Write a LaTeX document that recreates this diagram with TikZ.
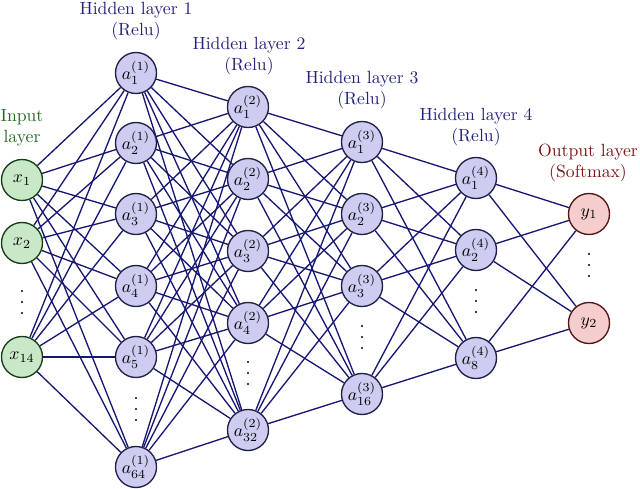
\documentclass[tikz,border=0pt]{standalone}
\usetikzlibrary{backgrounds}
\definecolor{edgec}{RGB}{22,22,115}
\definecolor{hidfill}{RGB}{205,205,242}
\definecolor{hiddraw}{RGB}{30,30,70}
\definecolor{inpfill}{RGB}{200,232,200}
\definecolor{inpdraw}{RGB}{20,60,20}
\definecolor{outfill}{RGB}{245,205,205}
\definecolor{outdraw}{RGB}{80,20,20}
\definecolor{inlab}{RGB}{35,105,35}
\definecolor{hidlab}{RGB}{35,35,125}
\definecolor{outlab}{RGB}{125,20,20}
\tikzset{
  neuron/.style={circle, minimum size=0.816cm, inner sep=0pt, line width=0.75pt},
  inp/.style={neuron, fill=inpfill, draw=inpdraw},
  hid/.style={neuron, fill=hidfill, draw=hiddraw},
  outn/.style={neuron, fill=outfill, draw=outdraw},
  edge/.style={draw=edgec, line width=0.75pt},
  lab/.style={align=center, inner sep=0pt}
}
\newcommand{\vdotsat}[1]{%
  \fill[black] ([yshift=0.0199cm*11]#1) circle (1.2*0.0199cm);
  \fill[black] (#1) circle (1.2*0.0199cm);
  \fill[black] ([yshift=-0.0199cm*11]#1) circle (1.2*0.0199cm);}
\begin{document}
\begin{tikzpicture}[x=0.0199cm, y=-0.0199cm]
\useasboundingbox (0,0) rectangle (640,488);
% input layer
\node[inp] (x1) at (22,180) {$x_1$};
\node[inp] (x2) at (22,243) {$x_2$};
\coordinate (xd) at (22,302);
\node[inp] (x14) at (22,357) {$x_{14}$};
% hidden 1
\node[hid] (a11) at (136,73) {$a_1^{(1)}$};
\node[hid] (a12) at (136,143) {$a_2^{(1)}$};
\node[hid] (a13) at (136,214) {$a_3^{(1)}$};
\node[hid] (a14) at (136,286) {$a_4^{(1)}$};
\node[hid] (a15) at (136,357) {$a_5^{(1)}$};
\coordinate (a1d) at (136,409);
\node[hid] (a164) at (136,467) {$a_{64}^{(1)}$};
% hidden 2
\node[hid] (a21) at (248,107) {$a_1^{(2)}$};
\node[hid] (a22) at (248,179) {$a_2^{(2)}$};
\node[hid] (a23) at (248,251) {$a_3^{(2)}$};
\node[hid] (a24) at (248,323) {$a_4^{(2)}$};
\coordinate (a2d) at (248,373);
\node[hid] (a232) at (248,430) {$a_{32}^{(2)}$};
% hidden 3
\node[hid] (a31) at (362,142) {$a_1^{(3)}$};
\node[hid] (a32) at (362,214) {$a_2^{(3)}$};
\node[hid] (a33) at (362,286) {$a_3^{(3)}$};
\coordinate (a3d) at (362,337);
\node[hid] (a316) at (362,394) {$a_{16}^{(3)}$};
% hidden 4
\node[hid] (a41) at (476,178) {$a_1^{(4)}$};
\node[hid] (a42) at (476,250) {$a_2^{(4)}$};
\coordinate (a4d) at (476,301);
\node[hid] (a48) at (476,358) {$a_8^{(4)}$};
% output
\node[outn] (y1) at (589,214) {$y_1$};
\coordinate (yd) at (589,265);
\node[outn] (y2) at (589,323) {$y_2$};
% dots
\vdotsat{xd}
\vdotsat{a1d}
\vdotsat{a2d}
\vdotsat{a3d}
\vdotsat{a4d}
\vdotsat{yd}
% labels
\node[lab, text=inlab] (lin) at (22,128) {Input\\layer};
\node[lab, text=hidlab] (lh1) at (136,21) {Hidden layer 1\\(Relu)};
\node[lab, text=hidlab] (lh2) at (249,56) {Hidden layer 2\\(Relu)};
\node[lab, text=hidlab] (lh3) at (362,90) {Hidden layer 3\\(Relu)};
\node[lab, text=hidlab] (lh4) at (476,127) {Hidden layer 4\\(Relu)};
\node[lab, text=outlab] (lout) at (588,163) {Output layer\\(Softmax)};
% edges
\begin{pgfonlayer}{background}
\foreach \i in {x1,x2,x14}
  \foreach \j in {a11,a12,a13,a14,a15,a164}
    \draw[edge] (\i) -- (\j);
\foreach \i in {a11,a12,a13,a14,a15,a164}
  \foreach \j in {a21,a22,a23,a24,a232}
    \draw[edge] (\i) -- (\j);
\foreach \i in {a21,a22,a23,a24,a232}
  \foreach \j in {a31,a32,a33,a316}
    \draw[edge] (\i) -- (\j);
\foreach \i in {a31,a32,a33,a316}
  \foreach \j in {a41,a42,a48}
    \draw[edge] (\i) -- (\j);
\foreach \i in {a41,a42,a48}
  \foreach \j in {y1,y2}
    \draw[edge] (\i) -- (\j);
\end{pgfonlayer}
\end{tikzpicture}
\end{document}
